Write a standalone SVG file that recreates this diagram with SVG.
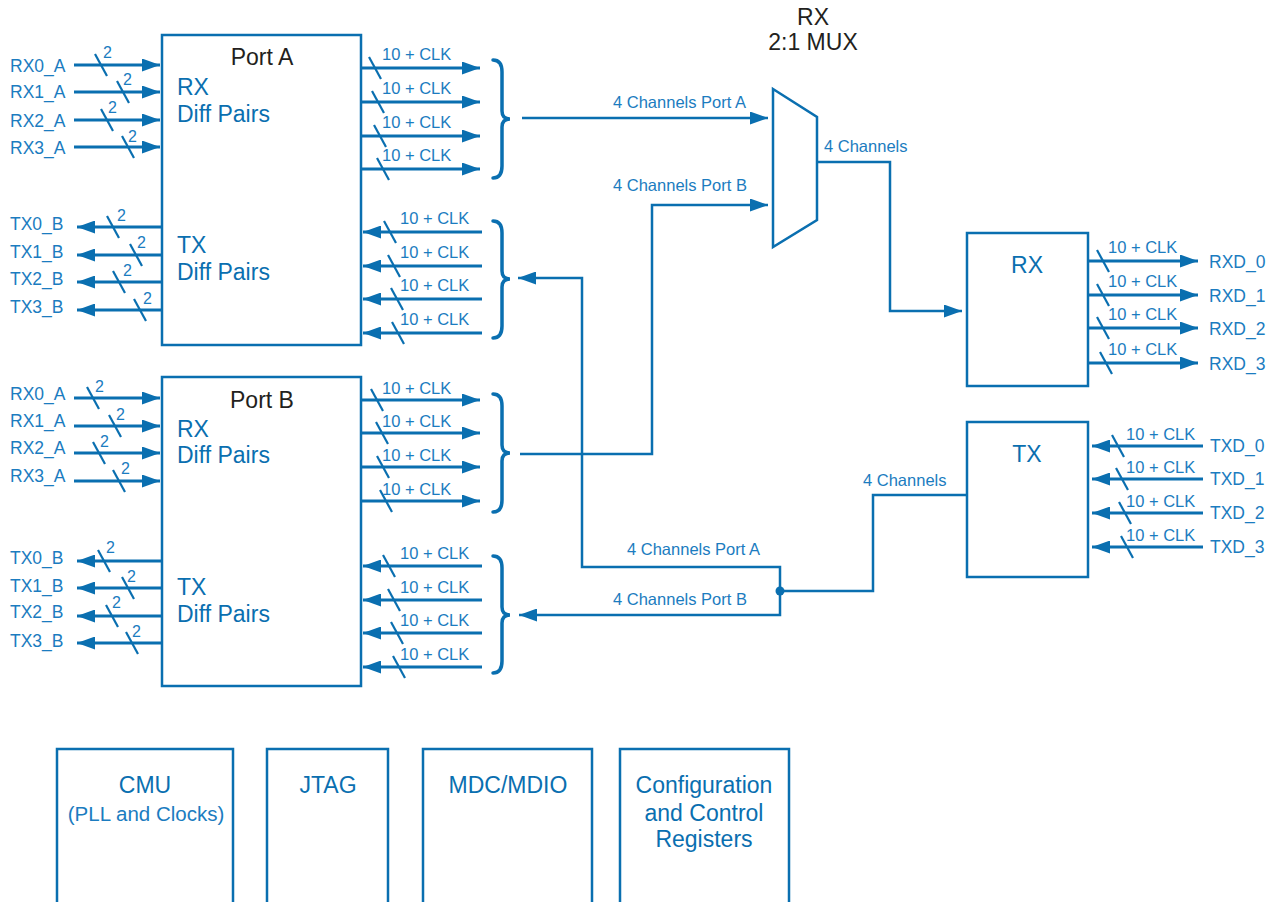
<svg xmlns="http://www.w3.org/2000/svg" width="1278" height="902" viewBox="0 0 1278 902">
<defs>
<marker id="ah" markerUnits="userSpaceOnUse" markerWidth="18" markerHeight="13" refX="18" refY="6.5" orient="auto"><path d="M0,0 L18,6.5 L0,13 z" fill="#0a6fb0"/></marker>
<style>
.box{fill:#fff;stroke:#0a6fb0;stroke-width:2.5}
.sig{stroke:#0a6fb0;stroke-width:3;fill:none}
.con{stroke:#0a6fb0;stroke-width:2.5;fill:none}
.sl{stroke:#0a6fb0;stroke-width:2.2}
.br{stroke:#0a6fb0;stroke-width:3.5;fill:none;stroke-linecap:round}
text{font-family:"Liberation Sans",Arial,sans-serif}
.lb{font-size:17.5px;fill:#1b7cc0}
.sm{font-size:16.5px;fill:#1b7cc0}
.n2{font-size:16px;fill:#1b7cc0}
.big{font-size:23px;fill:#0a6fb0}
.dk{font-size:23px;fill:#231f20}
.mid{text-anchor:middle}
</style>
</defs>
<rect width="1278" height="902" fill="#fff"/>

<g id="portA">
<rect class="box" x="162" y="35" width="199" height="310"/>
<text class="dk mid" x="262" y="65">Port A</text>
<text class="big" x="177" y="95">RX</text>
<text class="big" x="177" y="122">Diff Pairs</text>
<text class="big" x="177" y="253">TX</text>
<text class="big" x="177" y="280">Diff Pairs</text>
</g>

<g id="portB">
<rect class="box" x="162" y="377" width="199" height="309"/>
<text class="dk mid" x="262" y="408">Port B</text>
<text class="big" x="177" y="437">RX</text>
<text class="big" x="177" y="463">Diff Pairs</text>
<text class="big" x="177" y="595">TX</text>
<text class="big" x="177" y="622">Diff Pairs</text>
</g>

<g id="mux">
<polygon class="box" points="773,89 817,117 817,220 773,247"/>
<text class="dk mid" x="813" y="25">RX</text>
<text class="dk mid" x="813" y="50">2:1 MUX</text>
</g>

<g id="rxblock">
<rect class="box" x="967" y="233" width="121" height="153"/>
<text class="big mid" x="1027" y="273">RX</text>
</g>

<g id="txblock">
<rect class="box" x="967" y="422" width="121" height="155"/>
<text class="big mid" x="1027" y="462">TX</text>
</g>

<g id="cmu">
<rect class="box" x="57" y="749" width="176" height="160"/>
<text class="big mid" x="145" y="793">CMU</text>
<text class="mid" x="146" y="821" style="font-size:20.5px;fill:#1b7cc0">(PLL and Clocks)</text>
</g>
<g id="jtag">
<rect class="box" x="267" y="749" width="121" height="160"/>
<text class="big mid" x="328" y="793">JTAG</text>
</g>
<g id="mdc">
<rect class="box" x="423" y="749" width="169" height="160"/>
<text class="big mid" x="508" y="793">MDC/MDIO</text>
</g>
<g id="config">
<rect class="box" x="620" y="749" width="169" height="160"/>
<text class="big mid" x="704" y="793">Configuration</text>
<text class="big mid" x="704" y="821">and Control</text>
<text class="big mid" x="704" y="847">Registers</text>
</g>

<g id="connectors">
<!-- Port A left RX inputs -->
<g>
<line class="sig" x1="74" y1="65" x2="160" y2="65" marker-end="url(#ah)"/>
<line class="sig" x1="74" y1="92" x2="160" y2="92" marker-end="url(#ah)"/>
<line class="sig" x1="74" y1="120" x2="160" y2="120" marker-end="url(#ah)"/>
<line class="sig" x1="74" y1="147" x2="160" y2="147" marker-end="url(#ah)"/>
<line class="sl" x1="95" y1="54" x2="107" y2="76"/>
<line class="sl" x1="117" y1="81" x2="129" y2="103"/>
<line class="sl" x1="101" y1="109" x2="113" y2="131"/>
<line class="sl" x1="122" y1="136" x2="134" y2="158"/>
<text class="n2" x="103" y="58">2</text>
<text class="n2" x="123" y="85">2</text>
<text class="n2" x="108" y="113">2</text>
<text class="n2" x="128" y="142">2</text>
<text class="lb" x="10" y="72">RX0_A</text>
<text class="lb" x="10" y="98">RX1_A</text>
<text class="lb" x="10" y="127">RX2_A</text>
<text class="lb" x="10" y="154">RX3_A</text>
</g>
<!-- Port A left TX outputs -->
<g>
<line class="sig" x1="162" y1="227" x2="77" y2="227" marker-end="url(#ah)"/>
<line class="sig" x1="162" y1="255" x2="77" y2="255" marker-end="url(#ah)"/>
<line class="sig" x1="162" y1="282" x2="77" y2="282" marker-end="url(#ah)"/>
<line class="sig" x1="162" y1="310" x2="77" y2="310" marker-end="url(#ah)"/>
<line class="sl" x1="107" y1="216" x2="119" y2="238"/>
<line class="sl" x1="130" y1="244" x2="142" y2="266"/>
<line class="sl" x1="113" y1="271" x2="125" y2="293"/>
<line class="sl" x1="134" y1="299" x2="146" y2="321"/>
<text class="n2" x="117" y="221">2</text>
<text class="n2" x="137" y="248">2</text>
<text class="n2" x="123" y="276">2</text>
<text class="n2" x="143" y="304">2</text>
<text class="lb" x="10" y="230">TX0_B</text>
<text class="lb" x="10" y="258">TX1_B</text>
<text class="lb" x="10" y="285">TX2_B</text>
<text class="lb" x="10" y="313">TX3_B</text>
</g>
<!-- Port B left RX inputs -->
<g>
<line class="sig" x1="74" y1="398" x2="160" y2="398" marker-end="url(#ah)"/>
<line class="sig" x1="74" y1="426" x2="160" y2="426" marker-end="url(#ah)"/>
<line class="sig" x1="74" y1="453" x2="160" y2="453" marker-end="url(#ah)"/>
<line class="sig" x1="74" y1="481" x2="160" y2="481" marker-end="url(#ah)"/>
<line class="sl" x1="87" y1="387" x2="99" y2="409"/>
<line class="sl" x1="109" y1="415" x2="121" y2="437"/>
<line class="sl" x1="93" y1="442" x2="105" y2="464"/>
<line class="sl" x1="113" y1="470" x2="125" y2="492"/>
<text class="n2" x="95" y="392">2</text>
<text class="n2" x="116" y="420">2</text>
<text class="n2" x="100" y="447">2</text>
<text class="n2" x="121" y="474">2</text>
<text class="lb" x="10" y="400">RX0_A</text>
<text class="lb" x="10" y="427">RX1_A</text>
<text class="lb" x="10" y="454">RX2_A</text>
<text class="lb" x="10" y="482">RX3_A</text>
</g>
<!-- Port B left TX outputs -->
<g>
<line class="sig" x1="162" y1="561" x2="77" y2="561" marker-end="url(#ah)"/>
<line class="sig" x1="162" y1="588" x2="77" y2="588" marker-end="url(#ah)"/>
<line class="sig" x1="162" y1="616" x2="77" y2="616" marker-end="url(#ah)"/>
<line class="sig" x1="162" y1="643" x2="77" y2="643" marker-end="url(#ah)"/>
<line class="sl" x1="98" y1="550" x2="110" y2="572"/>
<line class="sl" x1="122" y1="577" x2="134" y2="599"/>
<line class="sl" x1="106" y1="605" x2="118" y2="627"/>
<line class="sl" x1="126" y1="632" x2="138" y2="654"/>
<text class="n2" x="106" y="553">2</text>
<text class="n2" x="127" y="582">2</text>
<text class="n2" x="112" y="608">2</text>
<text class="n2" x="132" y="637">2</text>
<text class="lb" x="10" y="564">TX0_B</text>
<text class="lb" x="10" y="592">TX1_B</text>
<text class="lb" x="10" y="618">TX2_B</text>
<text class="lb" x="10" y="647">TX3_B</text>
</g>
<!-- Port A right RX outputs -->
<g>
<line class="sig" x1="361" y1="68" x2="480" y2="68" marker-end="url(#ah)"/>
<line class="sig" x1="361" y1="102" x2="480" y2="102" marker-end="url(#ah)"/>
<line class="sig" x1="361" y1="136" x2="480" y2="136" marker-end="url(#ah)"/>
<line class="sig" x1="361" y1="169" x2="480" y2="169" marker-end="url(#ah)"/>
<line class="sl" x1="369" y1="57" x2="381" y2="79"/>
<line class="sl" x1="372" y1="91" x2="384" y2="113"/>
<line class="sl" x1="374" y1="125" x2="386" y2="147"/>
<line class="sl" x1="377" y1="158" x2="389" y2="180"/>
<text class="sm" x="382" y="60">10 + CLK</text>
<text class="sm" x="382" y="94">10 + CLK</text>
<text class="sm" x="382" y="128">10 + CLK</text>
<text class="sm" x="382" y="161">10 + CLK</text>
<path class="br" d="M493,60 Q502,60 502,72 L502,111 Q502,119 510,119 Q502,119 502,127 L502,166 Q502,178 493,178"/>
</g>
<!-- Port A right TX inputs -->
<g>
<line class="sig" x1="482" y1="232" x2="363" y2="232" marker-end="url(#ah)"/>
<line class="sig" x1="482" y1="266" x2="363" y2="266" marker-end="url(#ah)"/>
<line class="sig" x1="482" y1="299" x2="363" y2="299" marker-end="url(#ah)"/>
<line class="sig" x1="482" y1="333" x2="363" y2="333" marker-end="url(#ah)"/>
<line class="sl" x1="384" y1="221" x2="396" y2="243"/>
<line class="sl" x1="388" y1="255" x2="400" y2="277"/>
<line class="sl" x1="391" y1="288" x2="403" y2="310"/>
<line class="sl" x1="392" y1="322" x2="404" y2="344"/>
<text class="sm" x="400" y="224">10 + CLK</text>
<text class="sm" x="400" y="258">10 + CLK</text>
<text class="sm" x="400" y="291">10 + CLK</text>
<text class="sm" x="400" y="325">10 + CLK</text>
<path class="br" d="M493,221 Q502,221 502,233 L502,271 Q502,279 510,279 Q502,279 502,287 L502,326 Q502,338 493,338"/>
</g>
<!-- Port B right RX outputs -->
<g>
<line class="sig" x1="361" y1="400" x2="480" y2="400" marker-end="url(#ah)"/>
<line class="sig" x1="361" y1="433" x2="480" y2="433" marker-end="url(#ah)"/>
<line class="sig" x1="361" y1="467" x2="480" y2="467" marker-end="url(#ah)"/>
<line class="sig" x1="361" y1="501" x2="480" y2="501" marker-end="url(#ah)"/>
<line class="sl" x1="371" y1="389" x2="383" y2="411"/>
<line class="sl" x1="376" y1="422" x2="388" y2="444"/>
<line class="sl" x1="377" y1="456" x2="389" y2="478"/>
<line class="sl" x1="380" y1="490" x2="392" y2="512"/>
<text class="sm" x="382" y="394">10 + CLK</text>
<text class="sm" x="382" y="427">10 + CLK</text>
<text class="sm" x="382" y="461">10 + CLK</text>
<text class="sm" x="382" y="495">10 + CLK</text>
<path class="br" d="M493,394 Q502,394 502,406 L502,445 Q502,453 510,453 Q502,453 502,461 L502,500 Q502,512 493,512"/>
</g>
<!-- Port B right TX inputs -->
<g>
<line class="sig" x1="482" y1="566" x2="363" y2="566" marker-end="url(#ah)"/>
<line class="sig" x1="482" y1="600" x2="363" y2="600" marker-end="url(#ah)"/>
<line class="sig" x1="482" y1="633" x2="363" y2="633" marker-end="url(#ah)"/>
<line class="sig" x1="482" y1="667" x2="363" y2="667" marker-end="url(#ah)"/>
<line class="sl" x1="383" y1="555" x2="395" y2="577"/>
<line class="sl" x1="388" y1="589" x2="400" y2="611"/>
<line class="sl" x1="391" y1="622" x2="403" y2="644"/>
<line class="sl" x1="393" y1="656" x2="405" y2="678"/>
<text class="sm" x="400" y="559">10 + CLK</text>
<text class="sm" x="400" y="593">10 + CLK</text>
<text class="sm" x="400" y="626">10 + CLK</text>
<text class="sm" x="400" y="660">10 + CLK</text>
<path class="br" d="M493,556 Q502,556 502,568 L502,607 Q502,615 510,615 Q502,615 502,623 L502,661 Q502,673 493,673"/>
</g>
<!-- Mux and routing -->
<g>
<line class="con" x1="522" y1="118" x2="768" y2="118" marker-end="url(#ah)"/>
<path class="con" d="M520,454 L652,454 L652,205 L768,205" marker-end="url(#ah)"/>
<path class="con" d="M817,162 L890,162 L890,311 L962,311" marker-end="url(#ah)"/>
<path class="con" d="M967,495 L873,495 L873,591 L780,591"/>
<path class="con" d="M780,591 L780,567 L582,567 L582,278 L518,278" marker-end="url(#ah)"/>
<path class="con" d="M780,591 L780,615 L519,615" marker-end="url(#ah)"/>
<circle cx="780" cy="591" r="4.5" fill="#0a6fb0"/>
<text class="sm" x="613" y="108">4 Channels Port A</text>
<text class="sm" x="613" y="191">4 Channels Port B</text>
<text class="sm" x="824" y="152">4 Channels</text>
<text class="sm" x="627" y="555">4 Channels Port A</text>
<text class="sm" x="613" y="605">4 Channels Port B</text>
<text class="sm" x="863" y="486">4 Channels</text>
</g>
<!-- RX block outputs -->
<g>
<line class="sig" x1="1088" y1="261" x2="1198" y2="261" marker-end="url(#ah)"/>
<line class="sig" x1="1088" y1="295" x2="1198" y2="295" marker-end="url(#ah)"/>
<line class="sig" x1="1088" y1="328" x2="1198" y2="328" marker-end="url(#ah)"/>
<line class="sig" x1="1088" y1="363" x2="1198" y2="363" marker-end="url(#ah)"/>
<line class="sl" x1="1097" y1="250" x2="1109" y2="272"/>
<line class="sl" x1="1097" y1="284" x2="1109" y2="306"/>
<line class="sl" x1="1097" y1="317" x2="1109" y2="339"/>
<line class="sl" x1="1100" y1="352" x2="1112" y2="374"/>
<text class="sm" x="1108" y="253">10 + CLK</text>
<text class="sm" x="1108" y="287">10 + CLK</text>
<text class="sm" x="1108" y="320">10 + CLK</text>
<text class="sm" x="1108" y="355">10 + CLK</text>
<text class="lb" x="1209" y="268">RXD_0</text>
<text class="lb" x="1209" y="302">RXD_1</text>
<text class="lb" x="1209" y="335">RXD_2</text>
<text class="lb" x="1209" y="370">RXD_3</text>
</g>
<!-- TX block inputs -->
<g>
<line class="sig" x1="1203" y1="446" x2="1092" y2="446" marker-end="url(#ah)"/>
<line class="sig" x1="1203" y1="479" x2="1092" y2="479" marker-end="url(#ah)"/>
<line class="sig" x1="1203" y1="513" x2="1092" y2="513" marker-end="url(#ah)"/>
<line class="sig" x1="1203" y1="547" x2="1092" y2="547" marker-end="url(#ah)"/>
<line class="sl" x1="1112" y1="435" x2="1124" y2="457"/>
<line class="sl" x1="1116" y1="468" x2="1128" y2="490"/>
<line class="sl" x1="1119" y1="502" x2="1131" y2="524"/>
<line class="sl" x1="1121" y1="536" x2="1133" y2="558"/>
<text class="sm" x="1126" y="440">10 + CLK</text>
<text class="sm" x="1126" y="473">10 + CLK</text>
<text class="sm" x="1126" y="507">10 + CLK</text>
<text class="sm" x="1126" y="541">10 + CLK</text>
<text class="lb" x="1210" y="452">TXD_0</text>
<text class="lb" x="1210" y="485">TXD_1</text>
<text class="lb" x="1210" y="519">TXD_2</text>
<text class="lb" x="1210" y="553">TXD_3</text>
</g>
</g>
</svg>
